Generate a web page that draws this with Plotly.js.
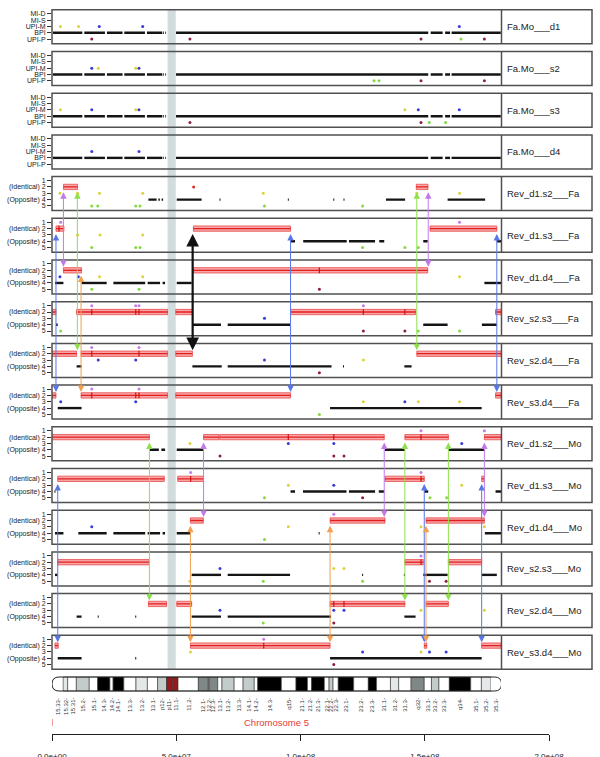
<!DOCTYPE html>
<html><head><meta charset="utf-8">
<script src="https://cdn.plot.ly/plotly-3.0.1.min.js"></script>
<style>html,body{margin:0;padding:0;background:#fff}#chart{width:600px;height:757px}</style>
</head><body><div id="chart"></div>
<script>
// ---------------- DATA ----------------
const panelNames = ['Fa.Mo___d1','Fa.Mo___s2','Fa.Mo___s3','Fa.Mo___d4',
  'Rev_d1.s2___Fa','Rev_d1.s3___Fa','Rev_d1.d4___Fa','Rev_s2.s3___Fa','Rev_s2.d4___Fa','Rev_s3.d4___Fa',
  'Rev_d1.s2___Mo','Rev_d1.s3___Mo','Rev_d1.d4___Mo','Rev_s2.s3___Mo','Rev_s2.d4___Mo','Rev_s3.d4___Mo'];
const topLevelLabels = ['MI-D','MI-S','UPI-M','BPI','UPI-P'];
const revLevelLabels = ['1','(Identical) 2','3','(Opposite) 4','5'];

// BPI informative markers (Mb) shared by the four trio panels
const bpiSegs = [[0.4,12.2],[13,21.3],[22.1,28.4],[29.1,37.4],[38.2,44.4],[44.7,45],[45.6,45.9],
  [49.9,151.4],[152.4,157.2],[158.2,160.2],[160.8,180.6]];

// black segments at level 4 ("Opposite"), per Rev panel (index 4..15)
const blackSegs = [null,null,null,null,
  [[38.8,42.1],[42.8,43.4],[44.1,44.7],[50.2,60.2],[67.4,67.8],[94.9,95.3],[113.2,113.6],[117.3,117.7],[134.4,142.1],[159.2,174.3]],
  [[96,97.8],[101.1,118.6],[119.5,130],[131.7,133.7],[149.4,151.2],[179,180.7]],
  [[1.2,4.6],[11.9,22],[24.7,37.5],[38.5,43.5],[44.5,45.5],[50.2,56.2],[174,180.7]],
  [[1.6,2.3],[56.5,68],[70.7,95.8],[149.4,159.2],[173,179]],
  [[9.9,11.9],[56.5,68.3],[70.7,112.5],[117.1,117.5],[141.8,144.7]],
  [[2.3,11.9],[111.9,172.9]],
  [[39.2,43],[44,45.5],[50.2,60.9],[134,142],[159.5,174]],
  [[1,1.4],[96,97.8],[101,118.5],[119.5,130],[131.5,133.7],[149.8,151.4],[178.5,180.7]],
  [[1.2,4.6],[10.6,22],[24.7,37.5],[38.5,43.5],[44.5,45.5],[50.2,55.7],[107.3,107.7],[174.2,180.7]],
  [[1.2,2.3],[56.2,68],[70.7,95.8],[124.8,125.2],[141.6,142],[149.4,159.2],[172.9,179]],
  [[9.9,11.9],[18.4,18.8],[33.5,33.9],[56.2,68],[70.7,112.3],[141.8,146.3]],
  [[2.3,11.9],[33.5,33.9],[111.9,172.9]]
];

// red "Identical" blocks at level 2, per panel
const redBlocks = [[],[],[],[],
  [[4.6,10.3],[146.6,151.3]],
  [[1.6,4.8],[56.9,96.0],[152.1,179.0]],
  [[4.6,11.9],[56.9,151.2]],
  [[0.1,1.6],[9.9,46.5],[49.8,56.5],[96,146.3],[178.5,180.7]],
  [[0.1,9.9],[11.7,46.5],[49.8,56.5],[146.8,180.7]],
  [[0.1,1.6],[11.7,46.5],[49.8,96],[178.5,180.7]],
  [[0.1,39.2],[61,67.2],[67.5,133.7],[142,159.5],[174,180.7]],
  [[2.3,45.2],[50.6,60.9],[134,149.8],[172.9,174]],
  [[55.7,60.9],[111.9,134],[150.5,174]],
  [[2.3,39.2],[142,149.4],[159.5,172.9]],
  [[38.8,46.1],[50.2,56.2],[111.9,142],[150.5,159.5]],
  [[1.2,2.5],[55.7,111.9],[149.8,150.8],[172.9,180.7]]
];
// vertical ticks inside red blocks
const redTicks = [[],[],[],[],
  [],[2.8],[107.6],[16,33.7,35,125.3,142],[16,35],[16,33.7,35],
  [95.1,113.4,148.5],[55.8,148.5],[],[148.5],[113.4,117.5],[85.2]];

// single informative markers: [position Mb, level, colour key]
const dots = [
  [[3.4,3,'y'],[10.7,3,'y'],[19,3,'b'],[36.5,3,'b'],[163.9,3,'b'],[16,5,'r'],[55.5,5,'r'],[148.5,5,'r'],[164.6,5,'g'],[174,5,'r']],
  [[16,3,'b'],[18.6,3,'y'],[33.7,3,'y'],[35,3,'b'],[148.5,5,'r'],[174,5,'r'],[129.6,5,'g'],[131.6,5,'g']],
  [[3.4,3,'y'],[16,3,'b'],[33.7,3,'y'],[35,3,'b'],[142,3,'y'],[147.4,3,'b'],[163.9,3,'b'],[55.5,5,'r'],[148.5,5,'r'],[151.8,5,'g'],[158.4,5,'g']],
  [[16,3,'b'],[35,3,'b']],
  [[57,2,'R'],[3.2,3,'y'],[10.3,3,'y'],[19.1,3,'y'],[36.5,3,'y'],[85,3,'y'],[146.8,3,'y'],[164,3,'y'],[16,5,'g'],[18.4,5,'g'],[33.7,5,'g'],[35.4,5,'g'],[85.5,5,'g'],[125,5,'g']],
  [[3.5,1,'v'],[164,1,'v'],[10.3,3,'y'],[19.3,3,'y'],[36.5,3,'y'],[16,5,'g'],[33.7,5,'g'],[35.4,5,'g'],[125,5,'g'],[142,5,'g'],[147.4,5,'g']],
  [[3.2,3,'b'],[10.6,3,'b'],[19.1,3,'y'],[36.5,3,'y'],[164,3,'y'],[16,5,'g'],[35,5,'g'],[107.6,5,'r']],
  [[16,1,'v'],[33.7,1,'v'],[35,1,'v'],[125.3,1,'v'],[85.5,3,'b'],[3.5,5,'g'],[125.3,5,'r'],[142,5,'r'],[147.4,5,'g'],[164,5,'g']],
  [[16,1,'v'],[35,1,'v'],[18.6,3,'b'],[33.7,3,'b'],[85.5,3,'b'],[125.3,3,'y'],[107.6,5,'r']],
  [[16,1,'v'],[35,1,'v'],[3.5,3,'b'],[33.7,3,'b'],[142,3,'b'],[125.3,3,'y'],[147.4,3,'y'],[164,3,'y'],[107.6,5,'g']],
  [[148.5,1,'v'],[174,1,'v'],[55.5,3,'y'],[95.1,3,'b'],[113.4,3,'b'],[164.9,3,'b'],[67.6,5,'r'],[113.4,5,'r'],[117.5,5,'r']],
  [[55.8,1,'v'],[148.5,1,'v'],[95.1,3,'y'],[113.4,3,'b'],[164.9,3,'y'],[85.5,5,'g'],[125,5,'r'],[152.1,5,'g'],[158.8,5,'g']],
  [[113.4,1,'v'],[16,3,'b'],[95.1,3,'y'],[148.5,3,'y'],[174,3,'y'],[85.5,5,'g']],
  [[148.5,1,'v'],[67.6,3,'b'],[113.4,3,'y'],[117.5,3,'y'],[55.5,5,'y'],[85,5,'g'],[125,5,'g'],[151.9,5,'r'],[158.6,5,'r']],
  [[67.6,3,'b'],[113.4,3,'b'],[117.5,3,'b'],[148.5,3,'y'],[174,3,'y'],[85,5,'g'],[113.4,5,'r']],
  [[85.2,1,'v'],[55.7,3,'y'],[125,3,'b'],[148.5,3,'y'],[151.9,3,'b'],[158.6,3,'b'],[113.4,5,'r']]
];

// breakpoint arrows: [position Mb, from panel, to panel, colour key]
const arrows = [
  [4.6,4,6,'v'],[10.2,4,8,'g'],[1.6,5,9,'b'],[11.7,6,9,'o'],[56.6,5,8,'k'],[96.0,5,9,'b'],
  [146.8,4,8,'g'],[151.4,4,6,'v'],[179.0,5,9,'b'],
  [39.2,10,14,'g'],[61.0,10,12,'v'],[133.7,10,12,'v'],[142.0,10,14,'g'],[159.5,10,14,'g'],[174.0,10,12,'v'],
  [2.3,11,15,'b'],[149.8,11,15,'b'],[172.9,11,15,'b'],
  [55.7,12,15,'o'],[111.9,12,15,'o'],[150.5,12,15,'o']
];

// centromere shading (Mb)
const centroShade = [46.5, 49.8];

// chromosome 5 ideogram (Mb)
const bandStart = [0,4.5,6.3,9.8,15.0,18.4,23.3,24.6,28.9,33.8,38.4,42.5,46.1,48.4,50.7,58.9,62.9,63.2,66.7,68.4,73.3,76.9,81.4,82.8,92.3,98.2,102.8,104.5,109.6,111.5,113.1,115.2,121.4,127.3,130.6,136.2,139.5,144.5,149.8,152.7,155.7,159.9,168.5,172.8,176.6];
const chrEnd = 180.9;
const bandStain = ['gneg','gpos25','gneg','gpos50','gneg','gpos100','gneg','gpos100','gneg','gpos25','gneg','gpos50','acen','acen','gneg','gpos75','gneg','gpos75','gneg','gpos50','gneg','gpos50','gneg','gpos100','gneg','gpos100','gneg','gpos100','gneg','gpos50','gneg','gpos100','gneg','gpos100','gneg','gpos25','gneg','gpos75','gneg','gpos50','gneg','gpos100','gneg','gpos25','gneg'];
const bandLabels = ['15.33','15.32','15.31','15.2','15.1','14.3','14.2','14.1','13.3','13.2','13.1','p12','p11','11.1','11.2','12.1','12.2','12.3','13.1','13.2','13.3','14.1','14.2','14.3','q15','21.1','21.2','21.3','22.1','22.2','22.3','23.1','23.2','23.3','31.1','31.2','31.3','q32','33.1','33.2','33.3','q34','35.1','35.2','35.3'];

// bottom genomic scale
const scaleTicks = [0, 5e7, 1e8, 1.5e8, 2e8];
const scaleTickText = ['0.0e+00','5.0e+07','1.0e+08','1.5e+08','2.0e+08'];

// ---------------- STYLE / LAYOUT ----------------
const W = 600, H = 757;
const xPlotL = 52, xPlotR = 501, xScaleR = 549, boxR = 592;
const xVisMax = (xPlotR - xPlotL) / (xScaleR - xPlotL) * 200;
const top0 = 9.8, step = 41.7, pH = 34;
const levTop = 0.37, levBot = 5.74;
const dotCol = {y:'#d9d43c', b:'#3b3bd6', v:'#c47ae8', g:'#86d843', r:'#8e1e40', R:'#e42a2a'};
const arrowCol = {b:'#5877e6', v:'#c27ae8', g:'#8ee04c', o:'#f2a050', k:'#111111'};
const stainCol = {gneg:'#ffffff', gpos25:'#e4e8e8', gpos50:'#c4cbcb', gpos75:'#7f8787', gpos100:'#000000', acen:'#951a1e'};
const font = 'Liberation Sans, Arial, sans-serif';

const py = p => 1 - p / H;
const panelTop = k => top0 + step * k;
const levelPx = (k, L) => panelTop(k) + (L - levTop) / (levBot - levTop) * pH;

const traces = [];
const shapes = [];
const annotations = [];
const layout = {
  width: W, height: H, margin: {l:0, r:0, t:0, b:0},
  paper_bgcolor: '#fff', plot_bgcolor: 'rgba(0,0,0,0)', showlegend: false,
  font: {family: font, color: '#222'},
  xaxis: {domain: [xPlotL / W, xPlotR / W], range: [0, xVisMax], visible: false, fixedrange: true, anchor: 'y'},
};

// centromere shading across all panels
shapes.push({type:'rect', xref:'x', yref:'paper', x0:centroShade[0], x1:centroShade[1],
  y0:py(panelTop(15) + pH), y1:py(panelTop(0)), fillcolor:'#d3dcdc', line:{width:0}, layer:'below'});

function segXY(segs, level) {
  const x = [], y = [];
  segs.forEach(s => { x.push(s[0], s[1], null); y.push(level, level, null); });
  return {x, y};
}

for (let k = 0; k < 16; k++) {
  const T = panelTop(k);
  const yid = k === 0 ? 'y' : 'y' + (k + 1);
  const yname = k === 0 ? 'yaxis' : 'yaxis' + (k + 1);
  layout[yname] = {
    domain: [py(T + pH), py(T)], range: [levBot, levTop], anchor: 'x',
    tickvals: [1,2,3,4,5], ticktext: k < 4 ? topLevelLabels : revLevelLabels,
    ticks: 'outside', ticklen: 4, tickwidth: 1, tickcolor: '#333',
    tickfont: {size: 7, color: '#222', family: font},
    showgrid: false, zeroline: false, showline: false, fixedrange: true
  };
  // panel frame + label box
  shapes.push({type:'rect', xref:'paper', yref:'paper', x0:xPlotL/W, x1:boxR/W, y0:py(T+pH), y1:py(T),
    line:{color:'#505050', width:1.5}, fillcolor:'rgba(0,0,0,0)', layer:'above'});
  shapes.push({type:'line', xref:'paper', yref:'paper', x0:(xPlotR+0.5)/W, x1:(xPlotR+0.5)/W, y0:py(T+pH), y1:py(T),
    line:{color:'#505050', width:1.5}, layer:'above'});
  annotations.push({xref:'paper', yref:'paper', x:505/W, y:py(T + pH/2), xanchor:'left', yanchor:'middle',
    text: panelNames[k], showarrow:false, font:{size:9.5, color:'#222', family:font}});

  // red identical blocks
  redBlocks[k].forEach(b => shapes.push({type:'rect', xref:'x', yref:yid, x0:b[0], x1:b[1], y0:1.58, y1:2.42,
    fillcolor:'#f6a7a7', line:{color:'#ea4a4a', width:0.8}, layer:'below'}));
  if (redBlocks[k].length) {
    const r = segXY(redBlocks[k], 2);
    traces.push({x:r.x, y:r.y, xaxis:'x', yaxis:yid, mode:'lines', line:{color:'#e31e1e', width:1.3}, hoverinfo:'skip'});
  }
  if (redTicks[k].length) {
    const x = [], y = [];
    redTicks[k].forEach(t => { x.push(t, t, null); y.push(1.55, 2.45, null); });
    traces.push({x, y, xaxis:'x', yaxis:yid, mode:'lines', line:{color:'#d31010', width:1.2}, hoverinfo:'skip'});
  }
  // black level-4 markers
  const bs = segXY(k < 4 ? bpiSegs : blackSegs[k], 4);
  traces.push({x:bs.x, y:bs.y, xaxis:'x', yaxis:yid, mode:'lines', line:{color:'#141414', width:2.4}, hoverinfo:'skip'});
  // coloured single markers
  traces.push({x:dots[k].map(d => d[0]), y:dots[k].map(d => d[1]), xaxis:'x', yaxis:yid, mode:'markers',
    marker:{size:3, color:dots[k].map(d => dotCol[d[2]])}, hoverinfo:'skip'});
}

// overlay axis in pixel units for the breakpoint arrows
layout.yaxis17 = {domain:[0,1], range:[H,0], visible:false, anchor:'x', fixedrange:true};
traces.push({x:[null], y:[null], xaxis:'x', yaxis:'y17', mode:'markers', hoverinfo:'skip'});
arrows.forEach(a => {
  const isK = a[3] === 'k';
  annotations.push({xref:'x', yref:'y17', axref:'x', ayref:'y17', x:a[0], ax:a[0],
    y: levelPx(a[2], 1.45), ay: levelPx(a[1], 2.6), text:'', showarrow:true,
    arrowhead:2, startarrowhead:2, arrowside:'end+start', arrowsize: isK ? 1.15 : 1.3, startarrowsize: isK ? 1.15 : 1.3,
    arrowwidth: isK ? 2.2 : 1, arrowcolor: arrowCol[a[3]], standoff:0, startstandoff:0});
});

// ideogram
const idT = 677, idB = 691;
const rx = 7 / ((xScaleR - xPlotL) / 200);
for (let i = 0; i < bandStart.length; i++) {
  const e = i < bandStart.length - 1 ? bandStart[i+1] : chrEnd;
  const edge = (i === 0 || i === bandStart.length - 1);
  shapes.push({type:'rect', xref:'x', yref:'paper', x0:bandStart[i], x1:e, y0:py(idB), y1:py(idT),
    fillcolor: stainCol[bandStain[i]], line:{color:'#333', width: edge ? 0 : 0.6}, layer:'above'});
  annotations.push({xref:'x', yref:'paper', x:(bandStart[i] + e) / 2, y:py(696), xanchor:'center', yanchor:'top',
    text: bandLabels[i] + '-', textangle:-90, showarrow:false, font:{size:6, color:'#333', family:font}});
}
const yT = py(idT), yB = py(idB), yM = py((idT + idB) / 2);
shapes.push({type:'path', xref:'x', yref:'paper', layer:'above', line:{color:'#222', width:1},
  path:`M ${rx},${yT} L ${chrEnd - rx},${yT} Q ${chrEnd},${yT} ${chrEnd},${yM} Q ${chrEnd},${yB} ${chrEnd - rx},${yB} L ${rx},${yB} Q 0,${yB} 0,${yM} Q 0,${yT} ${rx},${yT} Z`});
// chromosome label & red end ticks
annotations.push({xref:'x', yref:'paper', x:chrEnd/2, y:py(722), xanchor:'center', yanchor:'middle',
  text:'Chromosome 5', showarrow:false, font:{size:9.5, color:'#e33b3b', family:font}});
[0, chrEnd].forEach(v => shapes.push({type:'line', xref:'x', yref:'paper', x0:v, x1:v, y0:py(726), y1:py(719),
  line:{color:'#e33b3b', width:1}}));

// bottom genomic scale
const scaleY = 1 - 733.5 / H;
layout.xaxis2 = {domain:[xPlotL / W, xScaleR / W], range:[0, 2e8], anchor:'y18', side:'bottom',
  showline:true, linecolor:'#222', linewidth:1, ticks:'outside', ticklen:6, tickcolor:'#222', tickwidth:1,
  tickvals: scaleTicks, ticktext: scaleTickText, tickfont:{size:8, color:'#222', family:font},
  ticklabelstandoff: 9, showgrid:false, zeroline:false, fixedrange:true};
layout.yaxis18 = {domain:[scaleY, scaleY + 0.01], visible:false, range:[0,1], anchor:'x2', fixedrange:true};
traces.push({x:[null], y:[null], xaxis:'x2', yaxis:'y18', mode:'markers', hoverinfo:'skip'});

layout.shapes = shapes;
layout.annotations = annotations;
Plotly.newPlot('chart', traces, layout, {displayModeBar:false, staticPlot:true});
</script>
</body></html>
